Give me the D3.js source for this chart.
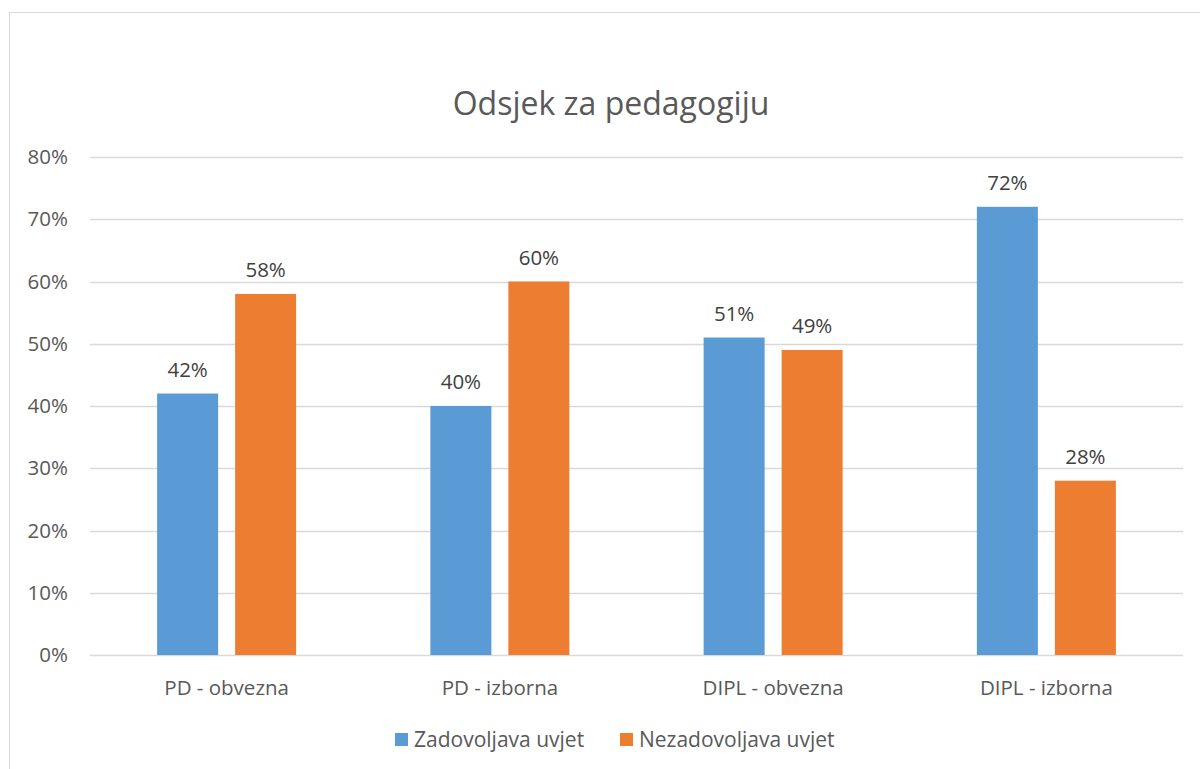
<!DOCTYPE html>
<html>
<head>
<meta charset="utf-8">
<script src="https://cdn.jsdelivr.net/npm/d3@7"></script>
<style>
  body { margin: 0; background: #fff; }
  text { font-family: "Open Sans", "Noto Sans", sans-serif; fill: #595959; }
</style>
</head>
<body>
<script>
const categories = ["PD - obvezna", "PD - izborna", "DIPL - obvezna", "DIPL - izborna"];
const seriesNames = ["Zadovoljava uvjet", "Nezadovoljava uvjet"];
const zadovoljava = [0.42, 0.40, 0.51, 0.72];
const nezadovoljava = [0.58, 0.60, 0.49, 0.28];
const yTicks = [0, 0.1, 0.2, 0.3, 0.4, 0.5, 0.6, 0.7, 0.8];
const colors = ["#5b9bd5", "#ed7d31"];

const w = 1200, h = 769;
const plotLeft = 90, plotRight = 1183, plotTop = 157, plotBottom = 655;

const svg = d3.select("body").append("svg")
  .attr("width", w)
  .attr("height", h);

// outer border
svg.append("rect")
  .attr("x", 9.5).attr("y", 12.5)
  .attr("width", 1300).attr("height", 900)
  .attr("fill", "none")
  .attr("stroke", "#d9d9d9");

svg.append("text")
  .attr("x", 611).attr("y", 115)
  .attr("text-anchor", "middle")
  .style("font-size", "32px")
  .text("Odsjek za pedagogiju");

const yScale = d3.scaleLinear().domain([0, 0.8]).range([plotBottom, plotTop]);
const x0 = d3.scaleBand().domain(categories).range([plotLeft, plotRight]);
const groupW = 139;
const x1 = d3.scaleBand().domain(seriesNames)
  .range([x0.bandwidth() / 2 - groupW / 2, x0.bandwidth() / 2 + groupW / 2])
  .paddingInner(17 / 78);

// gridlines
svg.append("g").selectAll("line").data(yTicks).enter().append("line")
  .attr("x1", plotLeft).attr("x2", plotRight)
  .attr("y1", d => Math.round(yScale(d)) + 0.5)
  .attr("y2", d => Math.round(yScale(d)) + 0.5)
  .attr("stroke", "#d9d9d9")
  .attr("stroke-width", 1.3);

const yAxis = d3.axisLeft(yScale).tickValues(yTicks).tickFormat(d3.format(".0%")).tickSize(0).tickPadding(0);
const gy = svg.append("g").attr("transform", "translate(68,0)").call(yAxis);
gy.select(".domain").remove();
gy.selectAll("text").style("font-size", "20.5px").attr("fill", "#595959");

const rows = categories.map((c, i) => ({cat: c, vals: [zadovoljava[i], nezadovoljava[i]]}));

const groups = svg.append("g").selectAll("g").data(rows).enter().append("g")
  .attr("transform", d => "translate(" + x0(d.cat) + ",0)");

groups.selectAll("rect").data(d => d.vals.map((v, j) => ({name: seriesNames[j], v: v, j: j})))
  .enter().append("rect")
  .attr("x", d => x1(d.name))
  .attr("width", x1.bandwidth())
  .attr("y", d => yScale(d.v))
  .attr("height", d => yScale(0) - yScale(d.v))
  .attr("fill", d => colors[d.j]);

groups.selectAll(".lbl").data(d => d.vals.map((v, j) => ({name: seriesNames[j], v: v})))
  .enter().append("text")
  .attr("class", "lbl")
  .attr("x", d => x1(d.name) + x1.bandwidth() / 2)
  .attr("y", d => yScale(d.v) - 17)
  .attr("text-anchor", "middle")
  .style("font-size", "20.5px")
  .style("fill", "#404040")
  .text(d => d3.format(".0%")(d.v));

const xAxis = d3.axisBottom(x0).tickSize(0).tickPadding(0);
const gx = svg.append("g").attr("transform", "translate(0," + (plotBottom + 40) + ")").call(xAxis);
gx.select(".domain").remove();
gx.selectAll("text").style("font-size", "20.5px").attr("dy", 0);

// legend
const legendX = [395, 620];
const legend = svg.append("g").selectAll("g").data(seriesNames).enter().append("g")
  .attr("transform", (d, i) => "translate(" + legendX[i] + ",733)");
legend.append("rect").attr("width", 13).attr("height", 13).attr("fill", (d, i) => colors[i]);
legend.append("text").attr("x", 19).attr("y", 13.5)
  .style("font-size", "21px")
  .text(d => d);
</script>
</body>
</html>
